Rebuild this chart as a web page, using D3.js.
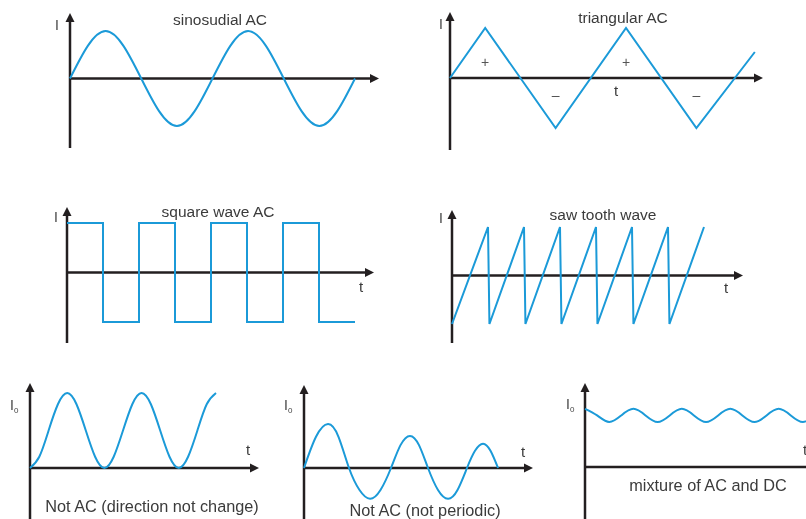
<!DOCTYPE html>
<html>
<head>
<meta charset="utf-8">
<script src="https://cdn.jsdelivr.net/npm/d3@7"></script>
<style>
  body { margin: 0; background: #fff; }
  svg { display: block; font-family: "Liberation Sans", Arial, sans-serif; will-change: transform; }
</style>
</head>
<body>
<svg id="chart"></svg>
<script>
// sinosudial AC, key points every quarter period
const sineT = [0, 1, 2, 3, 4, 5, 6, 7, 8],
      sineI = [0, 1, 0, -1, 0, 1, 0, -1, 0];

// triangular AC corners
const triT = [0, 1, 3, 5, 7, 8.66],
      triI = [0, 1, -1, 1, -1, 0.52];

// square wave, level held until next point
const sqT = [0, 1, 2, 3, 4, 5, 6, 7, 8],
      sqI = [1, -1, 1, -1, 1, -1, 1, -1, -1];

// saw tooth
const sawT = [0, 1, 1.04, 2, 2.04, 3, 3.04, 4, 4.04, 5, 5.04, 6, 6.04, 7],
      sawI = [-1, 1, -1, 1, -1, 1, -1, 1, -1, 1, -1, 1, -1, 1];

// not AC (direction not change), read every eighth of a period
const dirT = [0, 1, 2, 3, 4, 5, 6, 7, 8, 9, 10, 11, 12, 13, 14, 15, 16, 17, 18, 19, 20],
      dirI = [0, 0.15, 0.5, 0.85, 1, 0.85, 0.5, 0.15, 0, 0.15, 0.5, 0.85, 1, 0.85, 0.5, 0.15, 0, 0.15, 0.5, 0.85, 1];

// not AC (not periodic): zero crossings, extrema and points between
const aperT = [0, 1.2, 2.4, 3.45, 4.5, 5.55, 6.6, 7.65, 8.7, 9.65, 10.6, 11.5, 12.4, 13.4, 14.4, 15.35, 16.3, 17.1, 17.9, 18.65, 19.4],
      aperI = [0, 0.71, 1, 0.71, 0, -0.5, -0.7, -0.5, 0, 0.52, 0.73, 0.52, 0, -0.5, -0.7, -0.5, 0, 0.39, 0.55, 0.39, 0];

// mixture of AC and DC
const mixT = [0, 1, 2, 3, 4, 5, 6, 7, 8, 9, 10, 11, 12, 13, 14, 15, 16, 17, 18, 19],
      mixI = [9.7, 8.6, 7.5, 8.6, 9.7, 8.6, 7.5, 8.6, 9.7, 8.6, 7.5, 8.6, 9.7, 8.6, 7.5, 8.6, 9.7, 8.6, 7.5, 8.6];

const titles = ["sinosudial AC", "triangular AC", "square wave AC", "saw tooth wave",
                "Not AC (direction not change)", "Not AC (not periodic)", "mixture of AC and DC"];

const W = 806, H = 519,
      blue = "#1b9ad8", ink = "#231f20", grey = "#3b3b3b";

let svg = d3.select("#chart").attr("width", W).attr("height", H);

function zip(ts, is) { return ts.map(function(t, i) { return {t: t, i: is[i]}; }); }

function arrow(g, x, y, dir) {
  // dir: "up" or "right"
  let d = dir == "up"
    ? "M" + x + "," + y + "L" + (x - 4.5) + "," + (y + 9) + "L" + (x + 4.5) + "," + (y + 9) + "Z"
    : "M" + x + "," + y + "L" + (x - 9) + "," + (y - 4.5) + "L" + (x - 9) + "," + (y + 4.5) + "Z";
  g.append("path").attr("d", d).attr("fill", ink);
}

function drawPanel(p) {
  let g = svg.append("g");
  let x = d3.scaleLinear().domain(p.tDom).range(p.xRange),
      y = d3.scaleLinear().domain(p.iDom).range(p.yRange);

  let ox = x(0), oy = y(p.axisAt);

  // axes
  g.append("line").attr("x1", ox).attr("x2", ox).attr("y1", p.yAxis[0]).attr("y2", p.yAxis[1] + 7)
    .attr("stroke", ink).attr("stroke-width", 2.5);
  arrow(g, ox, p.yAxis[1], "up");
  g.append("line").attr("x1", ox).attr("x2", p.xAxisEnd - 7).attr("y1", oy).attr("y2", oy)
    .attr("stroke", ink).attr("stroke-width", 2.5);
  arrow(g, p.xAxisEnd, oy, "right");

  let line = d3.line()
    .x(function(d) { return x(d.t); })
    .y(function(d) { return y(d.i); })
    .curve(p.curve);

  g.append("path")
    .datum(zip(p.t, p.i))
    .attr("d", line)
    .attr("fill", "none")
    .attr("stroke", blue)
    .attr("stroke-width", 2)
    .attr("stroke-linejoin", "miter");

  // labels
  let yl = g.append("text").attr("x", p.ilab[0]).attr("y", p.ilab[1])
    .attr("fill", "#444").style("font-size", "14px").text("I");
  if (p.sub) yl.append("tspan").attr("dy", 3).style("font-size", "8px").text("0");

  if (p.tlab) g.append("text").attr("x", p.tlab[0]).attr("y", p.tlab[1])
    .attr("fill", grey).style("font-size", "15px").text("t");

  g.append("text").attr("x", p.title[0]).attr("y", p.title[1])
    .attr("text-anchor", "middle").attr("fill", grey)
    .style("font-size", p.title[2] + "px").text(p.name);

  return {g: g, x: x, y: y};
}

drawPanel({name: titles[0], t: sineT, i: sineI, curve: d3.curveNatural,
  tDom: [0, 8], xRange: [70, 355], iDom: [-1, 1], yRange: [126, 31], axisAt: 0,
  yAxis: [148, 13], xAxisEnd: 379, ilab: [55, 30], title: [220, 25, 15.5]});

let tri = drawPanel({name: titles[1], t: triT, i: triI, curve: d3.curveLinear,
  tDom: [0, 8], xRange: [450, 731.6], iDom: [-1, 1], yRange: [128, 28], axisAt: 0,
  yAxis: [150, 12], xAxisEnd: 763, ilab: [439, 29], tlab: [614, 96], title: [623, 23, 15.5]});
// + and – marks inside each half wave
[[1, 0.32, "+"], [3, -0.33, "\u2013"], [5, 0.32, "+"], [7, -0.33, "\u2013"]].forEach(function(m) {
  tri.g.append("text").attr("x", tri.x(m[0])).attr("y", tri.y(m[1]) + 5)
    .attr("text-anchor", "middle").attr("fill", "#555").style("font-size", "14px").text(m[2]);
});

drawPanel({name: titles[2], t: sqT, i: sqI, curve: d3.curveStepAfter,
  tDom: [0, 8], xRange: [67, 355], iDom: [-1, 1], yRange: [322, 223], axisAt: 0,
  yAxis: [343, 207], xAxisEnd: 374, ilab: [54, 222], tlab: [359, 292], title: [218, 217, 15.5]});

drawPanel({name: titles[3], t: sawT, i: sawI, curve: d3.curveLinear,
  tDom: [0, 7], xRange: [452, 704], iDom: [-1, 1], yRange: [324, 227], axisAt: 0,
  yAxis: [343, 210], xAxisEnd: 743, ilab: [439, 223], tlab: [724, 293], title: [603, 220, 15.5]});

drawPanel({name: titles[4], t: dirT, i: dirI, curve: d3.curveNatural,
  tDom: [0, 20], xRange: [30, 216], iDom: [0, 1], yRange: [468, 393], axisAt: 0,
  yAxis: [519, 383], xAxisEnd: 259, ilab: [10, 410], sub: true, tlab: [246, 455], title: [152, 512, 16.3]});

drawPanel({name: titles[5], t: aperT, i: aperI, curve: d3.curveNatural,
  tDom: [0, 19.4], xRange: [304, 498], iDom: [-1, 1], yRange: [512, 424], axisAt: 0,
  yAxis: [519, 385], xAxisEnd: 533, ilab: [284, 410], sub: true, tlab: [521, 457], title: [425, 516, 16.3]});

drawPanel({name: titles[6], t: mixT, i: mixI, curve: d3.curveNatural,
  tDom: [0, 19], xRange: [585, 815], iDom: [0, 10], yRange: [467, 407], axisAt: 0,
  yAxis: [519, 383], xAxisEnd: 830, ilab: [566, 409], sub: true, tlab: [803, 455], title: [708, 491, 16.3]});
</script>
</body>
</html>
